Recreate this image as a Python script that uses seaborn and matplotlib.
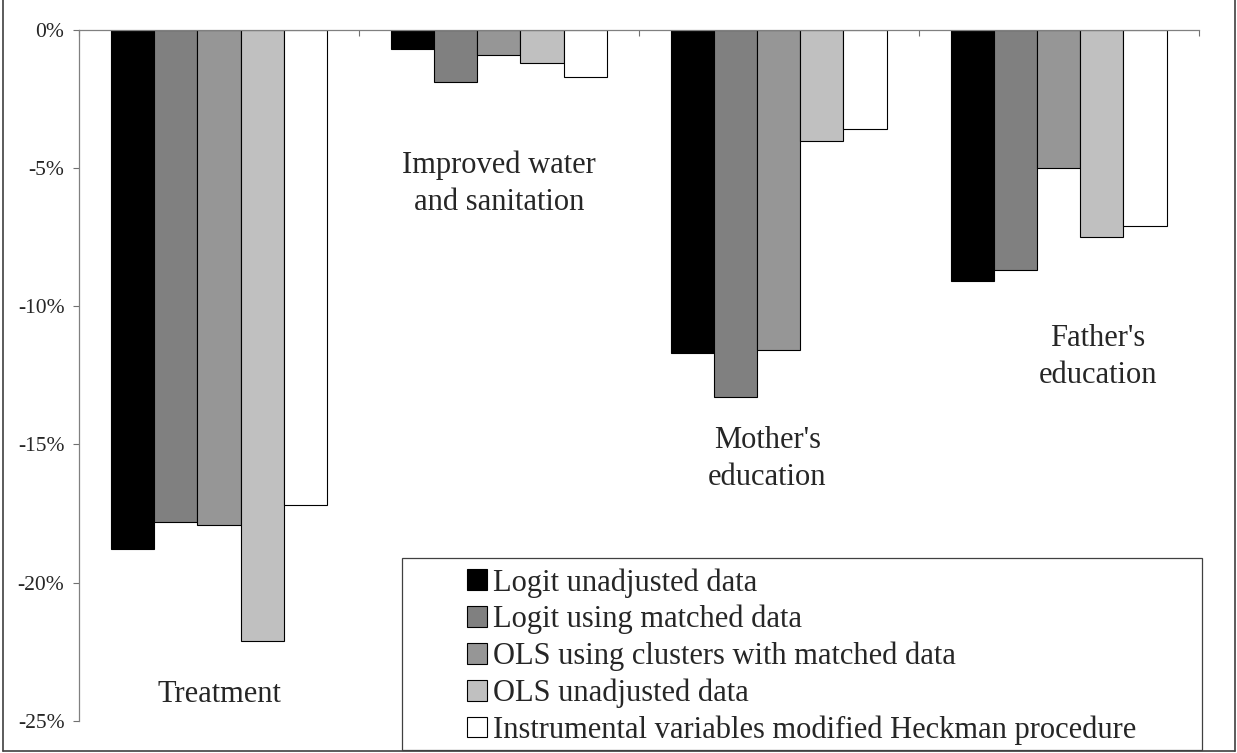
import matplotlib
matplotlib.use("Agg")
import matplotlib.pyplot as plt
import matplotlib.patches as mpatches
from matplotlib.lines import Line2D
import seaborn as sns
import pandas as pd

categories = ["Treatment", "Improved water\nand sanitation", "Mother's\neducation", "Father's\neducation"]
series = ["Logit unadjusted data",
          "Logit using matched data",
          "OLS using clusters with matched data",
          "OLS unadjusted data",
          "Instrumental variables modified Heckman procedure"]
logit_unadjusted = [-18.8, -0.7, -11.7, -9.1]
logit_matched = [-17.8, -1.9, -13.3, -8.7]
ols_clusters = [-17.9, -0.9, -11.6, -5.0]
ols_unadjusted = [-22.1, -1.2, -4.0, -7.5]
iv_heckman = [-17.2, -1.7, -3.6, -7.1]
yticks = [0, -5, -10, -15, -20, -25]
colors = ["#000000", "#808080", "#969696", "#C0C0C0", "#FFFFFF"]

values = [logit_unadjusted, logit_matched, ols_clusters, ols_unadjusted, iv_heckman]
rows = []
for s, vals in zip(series, values):
    for c, v in zip(categories, vals):
        rows.append({"category": c, "series": s, "value": v})
df = pd.DataFrame(rows)

sns.set_style("white")
plt.rcParams["font.family"] = ["Liberation Serif", "DejaVu Serif"]

W, H = 1237, 753
fig = plt.figure(figsize=(W / 100, H / 100), dpi=100)
ax = fig.add_axes([79 / W, 1 - 720.7 / H, (1198.5 - 79) / W, (720.7 - 30) / H])

sns.barplot(data=df, x="category", y="value", hue="series", order=categories,
            hue_order=series, palette=colors, width=216 / 280, gap=0,
            edgecolor="black", linewidth=0.8, saturation=1, ax=ax, legend=True)

ax.set_xlim(-0.5, 3.5)
ax.set_ylim(-25, 0)
ax.set_xlabel("")
ax.set_ylabel("")

# y axis
ax.set_yticks(yticks)
ax.set_yticklabels([f"{t}%" for t in yticks], fontsize=15.5)
ax.tick_params(axis="y", direction="out", length=4.5, width=0.8, color="#707070", pad=6, left=True)

# x axis at the top (value 0)
ax.xaxis.tick_top()
ax.set_xticks([-0.5, 0.5, 1.5, 2.5, 3.5])
ax.set_xticklabels([])
ax.tick_params(axis="x", direction="in", length=4.5, width=0.8, color="#707070", top=True, bottom=False)

for side in ["bottom", "right"]:
    ax.spines[side].set_visible(False)
for side in ["left", "top"]:
    ax.spines[side].set_visible(True)
    ax.spines[side].set_color("#808080")
    ax.spines[side].set_linewidth(0.9)

# category labels
label_pos = [(0.0, -24.05), (1.0, -5.57), (1.96, -15.53), (3.14, -11.83)]
for c, (x, y) in zip(categories, label_pos):
    ax.text(x, y, c, ha="center", va="center", fontsize=22, linespacing=1.37)

# legend
handles, labels = ax.get_legend_handles_labels()
ax.get_legend().remove()
for h in handles:
    h.set_edgecolor("black")
    h.set_linewidth(0.8)
leg = fig.legend(handles, labels, loc="upper left", bbox_to_anchor=(467 / W, 1 - 568 / H),
                 frameon=False, fontsize=22, handlelength=0.66, handleheight=0.66,
                 handletextpad=0.18, labelspacing=0.24, borderpad=0, borderaxespad=0)

fig.patches.append(mpatches.Rectangle((402 / W, 3 / H), (1202 - 402) / W, (750 - 557.7) / H,
                                      transform=fig.transFigure, facecolor="none",
                                      edgecolor="#404040", linewidth=0.9))

# outer frame
for xs, ys in [([3 / W, 3 / W], [2 / H, 1]), ([3 / W, 1235 / W], [2 / H, 2 / H]),
               ([1235 / W, 1235 / W], [2 / H, 1])]:
    fig.add_artist(Line2D(xs, ys, transform=fig.transFigure, color="#404040", linewidth=1.2))

fig.savefig("out.png", dpi=100, facecolor="white")
